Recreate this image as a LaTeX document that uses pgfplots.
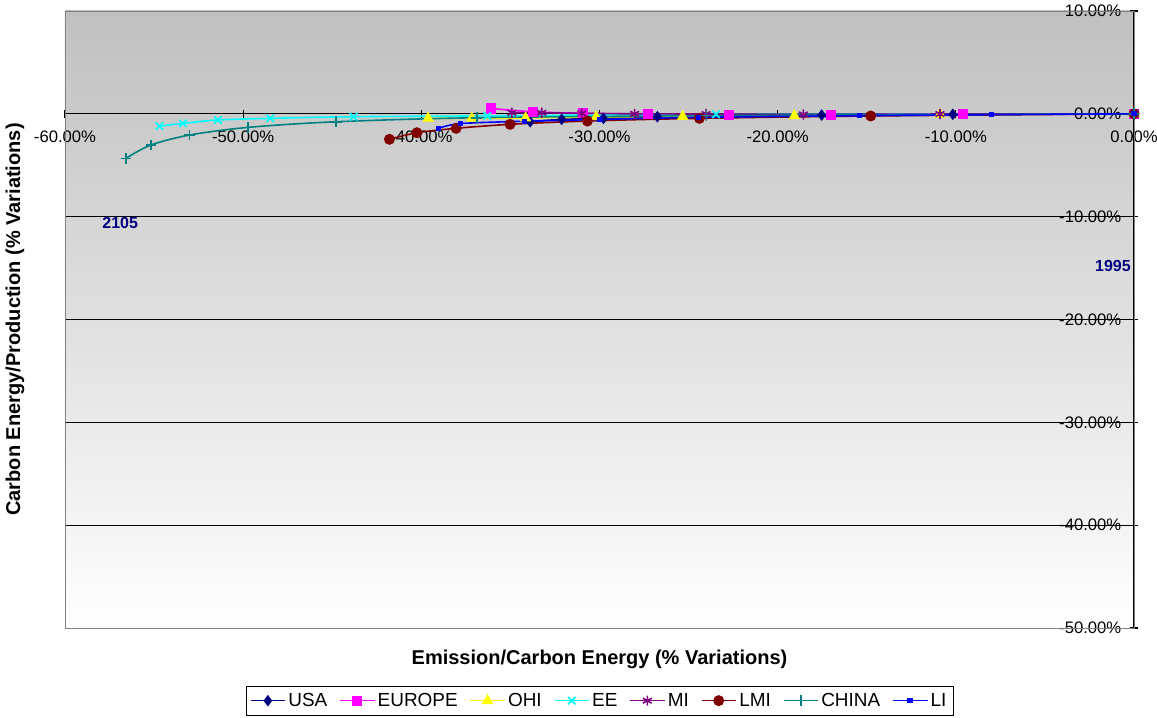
\documentclass[border=0pt]{standalone}
\usepackage{fontspec}
\setmainfont{Liberation Sans}
\usepackage{pgfplots}
\pgfplotsset{compat=1.18}
\definecolor{bgtop}{HTML}{C0C0C0}
\definecolor{cUSA}{HTML}{000080}
\definecolor{cEUR}{HTML}{FF00FF}
\definecolor{cOHI}{HTML}{FFFF00}
\definecolor{cEE}{HTML}{00FFFF}
\definecolor{cMI}{HTML}{800080}
\definecolor{cLMI}{HTML}{800000}
\definecolor{cCHN}{HTML}{008080}
\definecolor{cLI}{HTML}{0000FF}
\begin{document}
\begin{tikzpicture}
\begin{axis}[
  scale only axis, width=801.75pt, height=462.75pt,
  xmin=-60, xmax=0, ymin=-50, ymax=10,
  axis x line=middle, axis y line=middle,
  axis line style={-, black, line width=0.8pt},
  hide obscured x ticks=false, hide obscured y ticks=false,
  xtick={-60,-50,-40,-30,-20,-10,0},
  xticklabels={-60.00\%,-50.00\%,-40.00\%,-30.00\%,-20.00\%,-10.00\%,0.00\%},
  ytick={-50,-40,-30,-20,-10,0,10},
  yticklabels={-50.00\%,-40.00\%,-30.00\%,-20.00\%,-10.00\%,0.00\%,10.00\%},
  tick label style={font=\fontsize{12.5}{14}\selectfont},
  x tick label style={yshift=-6.5pt},
  y tick label style={xshift=-3pt},
  tick style={black, line width=0.8pt},
  major tick length=6pt,
  ymajorgrids, grid style={black, line width=0.6pt},
  axis background/.style={top color=bgtop, bottom color=white},
  every axis x label/.style={at={(axis description cs:0.5,0)}, anchor=center, yshift=-23.25pt, font=\bfseries\fontsize{15}{17}\selectfont},
  every axis y label/.style={at={(axis description cs:-0.04677,0.5)}, rotate=90, anchor=center, font=\bfseries\fontsize{15}{17}\selectfont},
  xlabel={Emission/Carbon Energy (\% Variations)},
  ylabel={Carbon Energy/Production (\% Variations)},
  legend columns=8,
  legend style={at={(axis description cs:0.5,0)}, anchor=north, yshift=-43.5pt, draw=black, line width=0.6pt,
    font=\fontsize{14.2}{15}\selectfont, inner ysep=3pt, inner xsep=3pt,
    /tikz/every even column/.append style={column sep=7pt}},
  legend image code/.code={\draw[mark repeat=2,mark phase=2] plot coordinates {(0cm,0cm) (0.45cm,0cm) (0.9cm,0cm)};},
  every axis plot/.append style={line width=1.2pt, smooth},
  clip=false,
]
\draw[gray, line width=0.6pt] (rel axis cs:0,0) rectangle (rel axis cs:1,1);
\coordinate (ll) at (rel axis cs:0,0);
\coordinate (ur) at (rel axis cs:1,1);
\addplot[color=cUSA, mark=diamond*, mark size=3.4pt, mark options={fill=cUSA}] coordinates {
 (0,0) (-10.17,-0.05) (-17.53,-0.12) (-26.75,-0.28) (-29.78,-0.44) (-32.12,-0.54) (-33.89,-0.77)};
\addlegendentry{USA}
\addplot[color=cEUR, mark=square*, mark size=3.2pt, mark options={fill=cEUR}] coordinates {
 (0,0) (-9.61,-0.05) (-17.02,-0.12) (-22.73,-0.12) (-27.3,-0.02) (-30.92,0.05) (-33.74,0.2) (-36.1,0.52)};
\addlegendentry{EUROPE}
\addplot[color=cOHI, mark=triangle*, mark size=3.8pt, mark options={fill=cOHI}] coordinates {
 (0,0) (-10.89,-0.05) (-19.06,-0.18) (-25.33,-0.26) (-30.19,-0.30) (-34.15,-0.41) (-37.17,-0.44) (-39.62,-0.44)};
\addlegendentry{OHI}
\addplot[color=cEE, mark=x, mark size=4pt] coordinates {
 (0,0) (-23.46,-0.05) (-36.3,-0.2) (-43.81,-0.28) (-48.48,-0.44) (-51.42,-0.6) (-53.38,-0.93) (-54.70,-1.19)};
\addlegendentry{EE}
\addplot[color=cMI, mark=asterisk, mark size=3.8pt] coordinates {
 (0,0) (-10.89,-0.02) (-18.56,-0.06) (-24.02,-0.02) (-28.03,0.0) (-30.99,0.05) (-33.24,0.1) (-34.92,0.1)};
\addlegendentry{MI}
\addplot[color=cLMI, mark=*, mark size=3.5pt, mark options={fill=cLMI}] coordinates {
 (0,0) (-14.78,-0.21) (-24.39,-0.44) (-30.68,-0.70) (-35.02,-1.02) (-38.05,-1.41) (-40.25,-1.84) (-41.79,-2.48)};
\addlegendentry{LMI}
\addplot[color=cCHN, mark=+, mark size=4pt] coordinates {
 (0,0) (-24,-0.18) (-36.89,-0.38) (-44.78,-0.77) (-49.74,-1.32) (-53.01,-2.06) (-55.18,-3.03) (-56.58,-4.33)};
\addlegendentry{CHINA}
\addplot[color=cLI, mark=square*, mark size=1.4pt, mark options={fill=cLI}] coordinates {
 (0,0) (-8,-0.08) (-15.4,-0.18) (-24.45,-0.34) (-30.0,-0.55) (-34.2,-0.72) (-37.8,-0.95) (-39.04,-1.41)};
\addlegendentry{LI}
\node[font=\bfseries\fontsize{12}{14}\selectfont, text=cUSA] at (axis cs:-56.9,-10.62) {2105};
\node[font=\bfseries\fontsize{12}{14}\selectfont, text=cUSA] at (axis cs:-1.18,-14.8) {1995};
\end{axis}
\pgfresetboundingbox
\path ([xshift=-48.75pt,yshift=-67.5pt]ll) rectangle ([xshift=17.25pt,yshift=8.25pt]ur);
\end{tikzpicture}
\end{document}
